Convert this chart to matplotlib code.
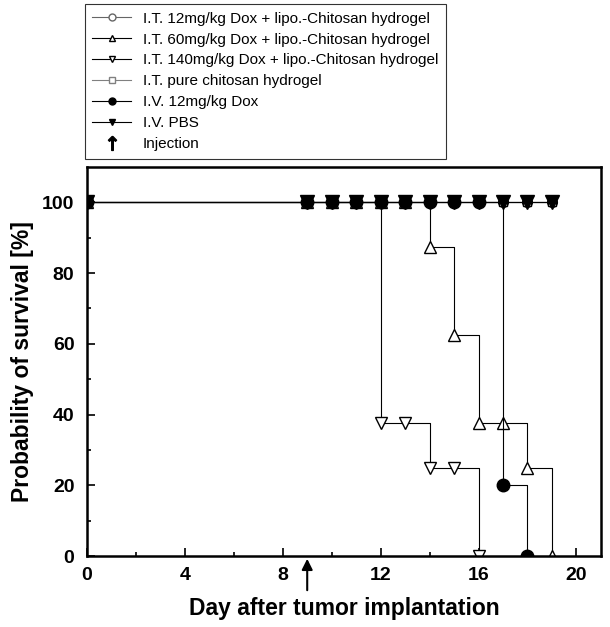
import matplotlib.pyplot as plt
from matplotlib.lines import Line2D

plt.rcParams['font.family'] = ['Liberation Sans', 'DejaVu Sans']

# Survival data (day after tumor implantation, % surviving)
days_it12 = [0, 9, 10, 11, 12, 13, 14, 15, 16, 17, 18, 19]
surv_it12 = [100, 100, 100, 100, 100, 100, 100, 100, 100, 100, 100, 100]

days_it60 = [0, 9, 10, 11, 12, 13, 14, 15, 16, 17, 18, 19]
surv_it60 = [100, 100, 100, 100, 100, 100, 87.5, 62.5, 37.5, 37.5, 25, 0]

days_it140 = [0, 9, 10, 11, 12, 13, 14, 15, 16]
surv_it140 = [100, 100, 100, 100, 37.5, 37.5, 25, 25, 0]

days_pure = [0, 9, 10, 11, 12, 13, 14, 15, 16, 17, 18, 19]
surv_pure = [100, 100, 100, 100, 100, 100, 100, 100, 100, 100, 100, 100]

days_iv12 = [0, 9, 10, 11, 12, 13, 14, 15, 16, 17, 18]
surv_iv12 = [100, 100, 100, 100, 100, 100, 100, 100, 100, 20, 0]

days_pbs = [0, 9, 10, 11, 12, 13, 14, 15, 16, 17, 18, 19]
surv_pbs = [100, 100, 100, 100, 100, 100, 100, 100, 100, 100, 100, 100]

injection_day = 9

labels = ["I.T. 12mg/kg Dox + lipo.-Chitosan hydrogel",
          "I.T. 60mg/kg Dox + lipo.-Chitosan hydrogel",
          "I.T. 140mg/kg Dox + lipo.-Chitosan hydrogel",
          "I.T. pure chitosan hydrogel",
          "I.V. 12mg/kg Dox",
          "I.V. PBS",
          "Injection"]

fig = plt.figure(figsize=(6.1, 6.27), dpi=100)
ax = fig.add_axes([0.1426, 0.1132, 0.8424, 0.6205])

common = dict(color="black", lw=0.8, drawstyle="steps-post")
lines = []
lines += ax.plot(days_it12, surv_it12, marker="o", ms=7, mfc="white", mec="black", **common)
lines += ax.plot(days_pure, surv_pure, marker="s", ms=6, mfc="white", mec="black", **common)
lines += ax.plot(days_it60, surv_it60, marker="^", ms=9, mfc="white", mec="black", **common)
lines += ax.plot(days_it140, surv_it140, marker="v", ms=9, mfc="white", mec="black", **common)
lines += ax.plot(days_pbs, surv_pbs, marker="v", ms=10, mfc="black", mec="black", **common)
lines += ax.plot(days_iv12, surv_iv12, marker="o", ms=9, mfc="black", mec="black", **common)
for ln in lines:
    ln.set_clip_path(ax.patch)

ax.set_xlim(0, 21)
ax.set_ylim(0, 110)
ax.set_xticks([0, 4, 8, 12, 16, 20])
ax.set_xticks(range(0, 21, 2), minor=True)
ax.set_yticks([0, 20, 40, 60, 80, 100])
ax.set_yticks(range(0, 110, 10), minor=True)
ax.tick_params(which="both", direction="in", width=1.2)
ax.tick_params(which="major", length=6, labelsize=14)
ax.tick_params(axis="x", which="major", pad=8)
ax.tick_params(axis="y", which="major", pad=9)
ax.tick_params(which="minor", length=3)
for lab in ax.get_xticklabels() + ax.get_yticklabels():
    lab.set_fontweight("bold")
for s in ax.spines.values():
    s.set_linewidth(1.8)

ax.set_xlabel("Day after tumor implantation", fontsize=16.5, fontweight="bold", labelpad=9)
ax.set_ylabel("Probability of survival [%]", fontsize=16.5, fontweight="bold", labelpad=6)

# injection arrow below the x axis
ax.annotate("", xy=(injection_day, 0), xytext=(injection_day, -0.095),
            xycoords=("data", "axes fraction"), textcoords=("data", "axes fraction"),
            arrowprops=dict(arrowstyle="-|>", color="black", lw=1.5, mutation_scale=16),
            annotation_clip=False)

hl = [Line2D([], [], color="0.4", lw=0.8, marker="o", mfc="white", mec="0.4", ms=5),
      Line2D([], [], color="black", lw=0.8, marker="^", mfc="white", mec="black", ms=5),
      Line2D([], [], color="black", lw=0.8, marker="v", mfc="white", mec="black", ms=5),
      Line2D([], [], color="0.5", lw=0.8, marker="s", mfc="white", mec="0.5", ms=5),
      Line2D([], [], color="black", lw=0.8, marker="o", mfc="black", mec="black", ms=5),
      Line2D([], [], color="black", lw=0.8, marker="v", mfc="black", mec="black", ms=5),
      Line2D([], [], ls="none", marker=r"$\uparrow$", color="black", ms=10)]
leg = fig.legend(hl, labels, loc="upper left", bbox_to_anchor=(0.139, 0.9936),
                 borderaxespad=0, fontsize=11, frameon=True, fancybox=False,
                 edgecolor="black", handlelength=2.5, handletextpad=0.8,
                 labelspacing=0.45, borderpad=0.5)
leg.get_frame().set_linewidth(0.8)

fig.savefig("out.png", dpi=100)
